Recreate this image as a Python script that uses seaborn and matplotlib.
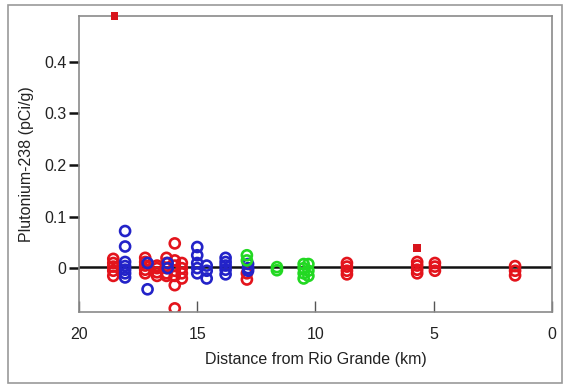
import matplotlib
matplotlib.use("Agg")
import matplotlib.pyplot as plt
from matplotlib.patches import Rectangle
import seaborn as sns
import pandas as pd

# red sample groups (distance km, Pu-238 pCi/g)
red_km = [18.55] * 5 + [17.2] * 5 + [16.7] * 4 + [16.3] * 5 + [15.95] * 7 + [15.65] * 4 \
    + [12.9] * 2 + [8.67] * 4 + [5.7] * 4 + [4.95] * 3 + [1.56] * 3
red_val = [0.018, 0.01, 0.003, -0.005, -0.015,
           0.02, 0.012, 0.005, -0.003, -0.01,
           0.005, 0.0, -0.008, -0.015,
           0.02, 0.01, 0.0, -0.01, -0.015,
           0.048, 0.015, 0.005, -0.005, -0.015, -0.033, -0.078,
           0.01, 0.0, -0.01, -0.02,
           -0.01, -0.022,
           0.01, 0.003, -0.005, -0.012,
           0.012, 0.005, -0.003, -0.01,
           0.01, 0.003, -0.005,
           0.004, -0.005, -0.014]

blue_km = [18.05] * 7 + [17.1] * 2 + [16.25] * 2 + [15.0] * 5 + [14.6] * 3 + [13.8] * 5 + [12.85] * 3
blue_val = [0.072, 0.042, 0.012, 0.004, -0.003, -0.01, -0.018,
            0.01, -0.041,
            0.01, 0.0,
            0.041, 0.025, 0.01, 0.0, -0.01,
            0.005, -0.005, -0.02,
            0.02, 0.012, 0.005, -0.003, -0.012,
            0.008, 0.0, -0.005]

green_km = [12.9] * 2 + [11.63] * 2 + [10.5] * 4 + [10.3] * 3
green_val = [0.025, 0.015,
             0.002, -0.004,
             0.008, 0.0, -0.01, -0.02,
             0.008, -0.005, -0.015]

# filled squares (detections)
sq_km = [18.5, 5.7]
sq_val = [0.489, 0.039]

baseline = 0.003

df = pd.DataFrame({
    "km": red_km + blue_km + green_km,
    "pu": red_val + blue_val + green_val,
    "grp": ["red"] * len(red_km) + ["blue"] * len(blue_km) + ["green"] * len(green_km),
})

sns.set_style("white")
plt.rcParams["font.family"] = ["Liberation Sans", "DejaVu Sans"]
plt.rcParams["text.color"] = "#222222"
plt.rcParams["axes.labelcolor"] = "#222222"
plt.rcParams["xtick.color"] = "#222222"
plt.rcParams["ytick.color"] = "#222222"

fig = plt.figure(figsize=(5.69, 3.88), dpi=100)
ax = fig.add_axes([0.1388, 0.1959, 0.8313, 0.7629])

ax.axhline(baseline, color="#111111", lw=1.8, zorder=1)

palette = {"red": "#e3141c", "blue": "#2323c8", "green": "#22d822"}
for g in ["red", "blue", "green"]:
    sub = df[df["grp"] == g]
    sns.scatterplot(data=sub, x="km", y="pu", ax=ax, marker="o", s=52,
                    facecolors="none", edgecolor=palette[g], linewidth=1.9,
                    zorder=2, legend=False)

sns.scatterplot(x=sq_km, y=sq_val, ax=ax, marker="s", s=30, color="#d8141c",
                edgecolor="none", zorder=3, legend=False, clip_on=False)

ax.set_xlim(20, 0)
ax.set_ylim(-0.085, 0.489)
ax.set_xticks([20, 15, 10, 5, 0])
ax.set_yticks([0, 0.1, 0.2, 0.3, 0.4])
ax.set_yticklabels(["0", "0.1", "0.2", "0.3", "0.4"])

ax.set_xlabel("Distance from Rio Grande (km)", fontsize=11.5, labelpad=7)
ax.set_ylabel("Plutonium-238 (pCi/g)", fontsize=11.5, labelpad=7)

for s in ax.spines.values():
    s.set_color("#8a8a8a")
    s.set_linewidth(1.2)

ax.tick_params(axis="x", bottom=True, direction="in", length=8, width=1.0,
               color="#555555", labelsize=11.5, pad=11)
ax.tick_params(axis="y", left=True, direction="out", length=7, width=1.8,
               color="#111111", labelsize=11.5, pad=2)
ax.grid(False)

fig.add_artist(Rectangle((8 / 569, 5 / 388), 554 / 569, 378 / 388,
                         transform=fig.transFigure, fill=False,
                         edgecolor="#9a9a9a", lw=1.2))

fig.savefig("out.png", dpi=100)
